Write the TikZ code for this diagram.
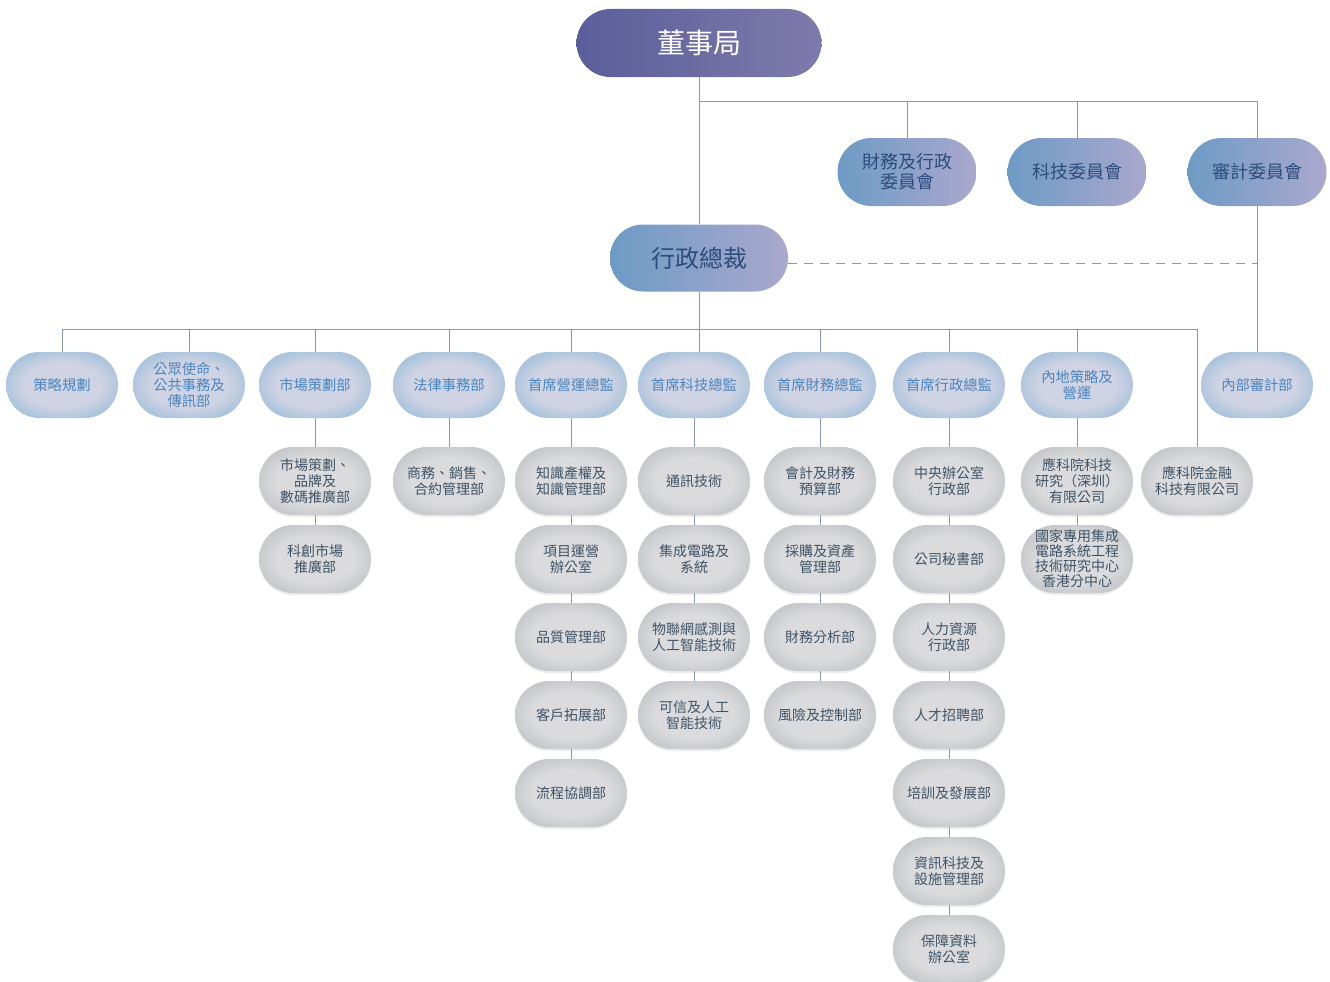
\documentclass[tikz,border=0pt]{standalone}
\usepackage{fontspec}
\setmainfont{Noto Sans CJK TC}
\usetikzlibrary{positioning, shadows}
\definecolor{boardL}{HTML}{5A5E9A}
\definecolor{boardR}{HTML}{7F7AAC}
\definecolor{cttL}{HTML}{6D9BC5}
\definecolor{cttR}{HTML}{ABA8CD}
\definecolor{cttText}{HTML}{2C4C7C}
\definecolor{headIn}{HTML}{D0D3E3}
\definecolor{headRim}{HTML}{AAC4DD}
\definecolor{headText}{HTML}{4A86BD}
\definecolor{unitIn}{HTML}{DBDBDD}
\definecolor{unitRim}{HTML}{C6C8CB}
\definecolor{unitText}{HTML}{3F5366}
\definecolor{linkc}{HTML}{8A99A8}
\pgfdeclareradialshading{bluerim}{\pgfpointorigin}{color(0bp)=(headIn); color(17bp)=(headIn); color(27bp)=(headRim); color(50bp)=(headRim)}
\pgfdeclareradialshading{grayrim}{\pgfpointorigin}{color(0bp)=(unitIn); color(17bp)=(unitIn); color(27bp)=(unitRim); color(50bp)=(unitRim)}
\tikzset{
    x=1pt, y=-1pt, % one unit is one pixel of the chart, y runs down
    node distance=78pt, % distance between two boxes of a column
    pill/.style={rectangle, rounded corners=33pt, minimum height=66pt, align=center, inner sep=2pt}, % the round-ended box
    board/.style={pill, minimum width=245pt, minimum height=68pt, rounded corners=34pt, left color=boardL, right color=boardR, text=white, font=\fontsize{28}{32}\selectfont},
    cttee/.style={pill, minimum width=139pt, minimum height=68pt, rounded corners=34pt, left color=cttL, right color=cttR, text=cttText, font=\fontsize{18}{20}\selectfont},
    chief/.style={pill, minimum width=178pt, minimum height=67pt, left color=cttL, right color=cttR, text=cttText, font=\fontsize{24}{28}\selectfont},
    head/.style={pill, minimum width=112pt, shading=bluerim, text=headText, font=\fontsize{14.3}{16}\selectfont}, % boxes under the CEO
    unit/.style={pill, minimum width=112pt, minimum height=68pt, rounded corners=34pt, shading=grayrim, text=unitText, font=\fontsize{14}{16}\selectfont, drop shadow={shadow xshift=0pt, shadow yshift=-2pt, opacity=0.15}}, % departments
    link/.style={draw=linkc, line width=0.9pt}, % the connecting lines
}
\begin{document}
\begin{tikzpicture}
\useasboundingbox (0,0) rectangle (1330,982);
% board, committees and CEO
\node[board] (board) at (699,43) {董事局};
\node[cttee] (fac) at (907,172) {財務及行政\\委員會};
\node[cttee] (tec) at (1077,172) {科技委員會};
\node[cttee] (aud) at (1257,172) {審計委員會};
\node[chief] (ceo) at (699,258) {行政總裁};
% heads
\node[head] (stra) at (62,385) {策略規劃};
\node[head] (pub) at (189,385) {公眾使命、\\公共事務及\\傳訊部};
\node[head] (mkt) at (315,385) {市場策劃部};
\node[head] (law) at (449,385) {法律事務部};
\node[head] (coo) at (571,385) {首席營運總監};
\node[head] (cto) at (694,385) {首席科技總監};
\node[head] (cfo) at (820,385) {首席財務總監};
\node[head] (cao) at (949,385) {首席行政總監};
\node[head] (mso) at (1077,385) {內地策略及\\營運};
\node[head] (iad) at (1257,385) {內部審計部};
% departments
\node[unit] (mkt1) at (315,481) {市場策劃、\\品牌及\\數碼推廣部};
\node[unit, below of=mkt1] (mkt2) {科創市場\\推廣部};
\node[unit] (law1) at (449,481) {商務、銷售、\\合約管理部};
\node[unit] (coo1) at (571,481) {知識產權及\\知識管理部};
\node[unit, below of=coo1] (coo2) {項目運營\\辦公室};
\node[unit, below of=coo2] (coo3) {品質管理部};
\node[unit, below of=coo3] (coo4) {客戶拓展部};
\node[unit, below of=coo4] (coo5) {流程協調部};
\node[unit] (cto1) at (694,481) {通訊技術};
\node[unit, below of=cto1] (cto2) {集成電路及\\系統};
\node[unit, below of=cto2] (cto3) {物聯網感測與\\人工智能技術};
\node[unit, below of=cto3] (cto4) {可信及人工\\智能技術};
\node[unit] (cfo1) at (820,481) {會計及財務\\預算部};
\node[unit, below of=cfo1] (cfo2) {採購及資產\\管理部};
\node[unit, below of=cfo2] (cfo3) {財務分析部};
\node[unit, below of=cfo3] (cfo4) {風險及控制部};
\node[unit] (cao1) at (949,481) {中央辦公室\\行政部};
\node[unit, below of=cao1] (cao2) {公司秘書部};
\node[unit, below of=cao2] (cao3) {人力資源\\行政部};
\node[unit, below of=cao3] (cao4) {人才招聘部};
\node[unit, below of=cao4] (cao5) {培訓及發展部};
\node[unit, below of=cao5] (cao6) {資訊科技及\\設施管理部};
\node[unit, below of=cao6] (cao7) {保障資料\\辦公室};
\node[unit] (mso1) at (1077,481) {應科院科技\\研究（深圳）\\有限公司};
\node[unit, below of=mso1, font=\fontsize{14}{15}\selectfont] (mso2) {國家專用集成\\電路系統工程\\技術研究中心\\香港分中心};
\node[unit] (fin) at (1197,481) {應科院金融\\科技有限公司};
% lines
\coordinate (busA) at (699,101);
\coordinate (busB) at (699,329);
\coordinate (dashend) at (1257,263);
\begin{scope}[on background layer/.try]
\draw[link] (board) -- (ceo);
\foreach \n in {fac,tec,aud} \draw[link] (busA) -| (\n.north);
\draw[link] (aud) -- (iad);
\draw[link, dash pattern=on 9pt off 7pt] (ceo.east |- dashend) -- (dashend);
\draw[link] (ceo) -- (ceo |- cto.north);
\foreach \n in {stra,pub,mkt,law,coo,cfo,cao,mso,fin} \draw[link] (busB) -| (\n.north);
\draw[link] (mkt) -- (mkt1) -- (mkt2);
\draw[link] (law) -- (law1);
\draw[link] (coo) -- (coo1) -- (coo2) -- (coo3) -- (coo4) -- (coo5);
\draw[link] (cto) -- (cto1) -- (cto2) -- (cto3) -- (cto4);
\draw[link] (cfo) -- (cfo1) -- (cfo2) -- (cfo3) -- (cfo4);
\draw[link] (cao) -- (cao1) -- (cao2) -- (cao3) -- (cao4) -- (cao5) -- (cao6) -- (cao7);
\draw[link] (mso) -- (mso1) -- (mso2);
\end{scope}
\end{tikzpicture}
\end{document}
